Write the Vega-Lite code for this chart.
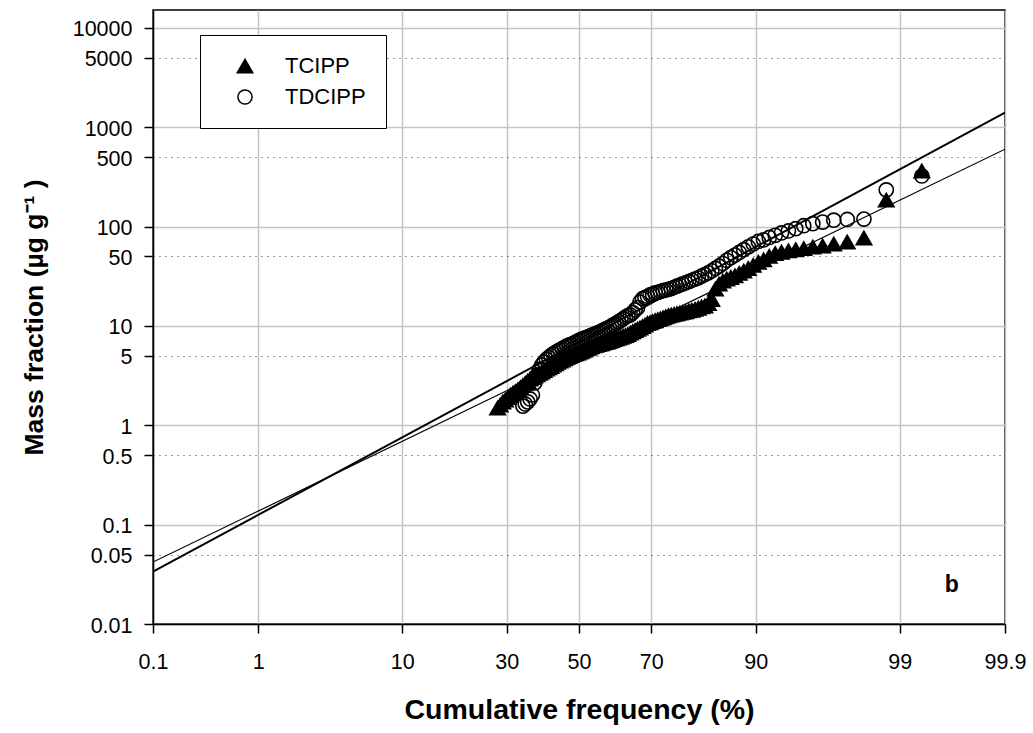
{
  "$schema": "https://vega.github.io/schema/vega-lite/v6.json",
  "width": 852,
  "height": 614,
  "autosize": {"type": "none"},
  "padding": {"left": 153, "top": 10, "right": 28, "bottom": 109},
  "background": "white",
  "config": {
    "font": "Liberation Sans",
    "view": {"stroke": "black", "strokeWidth": 1.5},
    "legend": {
      "orient": "none",
      "legendX": 47,
      "legendY": 25,
      "fillColor": "white",
      "strokeColor": "black",
      "strokeWidth": 1,
      "padding": 20,
      "symbolOffset": 14,
      "labelOffset": 29,
      "rowPadding": 9,
      "labelFontSize": 22,
      "labelFont": "Liberation Sans",
      "labelColor": "black",
      "symbolStrokeWidth": 1.5
    }
  },
  "datasets": {
    "points": [
      {"series": "TDCIPP", "z": -0.4072, "value": 1.56},
      {"series": "TDCIPP", "z": -0.3897, "value": 1.64},
      {"series": "TDCIPP", "z": -0.3723, "value": 1.72},
      {"series": "TDCIPP", "z": -0.3551, "value": 1.84},
      {"series": "TDCIPP", "z": -0.3379, "value": 2.02},
      {"series": "TDCIPP", "z": -0.3208, "value": 2.67},
      {"series": "TDCIPP", "z": -0.3038, "value": 3.21},
      {"series": "TDCIPP", "z": -0.2869, "value": 3.65},
      {"series": "TDCIPP", "z": -0.2701, "value": 4.05},
      {"series": "TDCIPP", "z": -0.2533, "value": 4.34},
      {"series": "TDCIPP", "z": -0.2367, "value": 4.6},
      {"series": "TDCIPP", "z": -0.2201, "value": 4.81},
      {"series": "TDCIPP", "z": -0.2036, "value": 5.04},
      {"series": "TDCIPP", "z": -0.1871, "value": 5.23},
      {"series": "TDCIPP", "z": -0.1707, "value": 5.4},
      {"series": "TDCIPP", "z": -0.1543, "value": 5.58},
      {"series": "TDCIPP", "z": -0.1379, "value": 5.75},
      {"series": "TDCIPP", "z": -0.1216, "value": 5.9},
      {"series": "TDCIPP", "z": -0.1053, "value": 6.08},
      {"series": "TDCIPP", "z": -0.0891, "value": 6.27},
      {"series": "TDCIPP", "z": -0.0729, "value": 6.41},
      {"series": "TDCIPP", "z": -0.0567, "value": 6.53},
      {"series": "TDCIPP", "z": -0.0405, "value": 6.68},
      {"series": "TDCIPP", "z": -0.0243, "value": 6.86},
      {"series": "TDCIPP", "z": -0.0081, "value": 7.04},
      {"series": "TDCIPP", "z": 0.0081, "value": 7.22},
      {"series": "TDCIPP", "z": 0.0243, "value": 7.39},
      {"series": "TDCIPP", "z": 0.0405, "value": 7.53},
      {"series": "TDCIPP", "z": 0.0567, "value": 7.69},
      {"series": "TDCIPP", "z": 0.0729, "value": 7.85},
      {"series": "TDCIPP", "z": 0.0891, "value": 8.02},
      {"series": "TDCIPP", "z": 0.1053, "value": 8.18},
      {"series": "TDCIPP", "z": 0.1216, "value": 8.36},
      {"series": "TDCIPP", "z": 0.1379, "value": 8.54},
      {"series": "TDCIPP", "z": 0.1543, "value": 8.73},
      {"series": "TDCIPP", "z": 0.1707, "value": 8.99},
      {"series": "TDCIPP", "z": 0.1871, "value": 9.21},
      {"series": "TDCIPP", "z": 0.2036, "value": 9.44},
      {"series": "TDCIPP", "z": 0.2201, "value": 9.7},
      {"series": "TDCIPP", "z": 0.2367, "value": 9.99},
      {"series": "TDCIPP", "z": 0.2533, "value": 10.3},
      {"series": "TDCIPP", "z": 0.2701, "value": 10.6},
      {"series": "TDCIPP", "z": 0.2869, "value": 11.0},
      {"series": "TDCIPP", "z": 0.3038, "value": 11.4},
      {"series": "TDCIPP", "z": 0.3208, "value": 11.8},
      {"series": "TDCIPP", "z": 0.3379, "value": 12.3},
      {"series": "TDCIPP", "z": 0.3551, "value": 12.7},
      {"series": "TDCIPP", "z": 0.3723, "value": 12.9},
      {"series": "TDCIPP", "z": 0.3897, "value": 13.6},
      {"series": "TDCIPP", "z": 0.4072, "value": 14.5},
      {"series": "TDCIPP", "z": 0.4249, "value": 15.3},
      {"series": "TDCIPP", "z": 0.4426, "value": 17.4},
      {"series": "TDCIPP", "z": 0.4605, "value": 18.8},
      {"series": "TDCIPP", "z": 0.4786, "value": 19.3},
      {"series": "TDCIPP", "z": 0.4968, "value": 19.9},
      {"series": "TDCIPP", "z": 0.5152, "value": 20.5},
      {"series": "TDCIPP", "z": 0.5338, "value": 20.9},
      {"series": "TDCIPP", "z": 0.5525, "value": 21.5},
      {"series": "TDCIPP", "z": 0.5714, "value": 21.8},
      {"series": "TDCIPP", "z": 0.5906, "value": 22.2},
      {"series": "TDCIPP", "z": 0.6099, "value": 22.7},
      {"series": "TDCIPP", "z": 0.6295, "value": 23.0},
      {"series": "TDCIPP", "z": 0.6494, "value": 23.4},
      {"series": "TDCIPP", "z": 0.6695, "value": 23.8},
      {"series": "TDCIPP", "z": 0.6899, "value": 24.5},
      {"series": "TDCIPP", "z": 0.7105, "value": 25.1},
      {"series": "TDCIPP", "z": 0.7315, "value": 25.8},
      {"series": "TDCIPP", "z": 0.7528, "value": 26.5},
      {"series": "TDCIPP", "z": 0.7744, "value": 27.2},
      {"series": "TDCIPP", "z": 0.7965, "value": 27.9},
      {"series": "TDCIPP", "z": 0.8189, "value": 28.8},
      {"series": "TDCIPP", "z": 0.8416, "value": 29.6},
      {"series": "TDCIPP", "z": 0.865, "value": 30.5},
      {"series": "TDCIPP", "z": 0.8888, "value": 31.7},
      {"series": "TDCIPP", "z": 0.913, "value": 32.9},
      {"series": "TDCIPP", "z": 0.9379, "value": 34.2},
      {"series": "TDCIPP", "z": 0.9633, "value": 35.9},
      {"series": "TDCIPP", "z": 0.9893, "value": 37.9},
      {"series": "TDCIPP", "z": 1.0161, "value": 39.9},
      {"series": "TDCIPP", "z": 1.0435, "value": 42.5},
      {"series": "TDCIPP", "z": 1.0718, "value": 45.8},
      {"series": "TDCIPP", "z": 1.1011, "value": 48.7},
      {"series": "TDCIPP", "z": 1.1311, "value": 51.6},
      {"series": "TDCIPP", "z": 1.1625, "value": 54.9},
      {"series": "TDCIPP", "z": 1.1949, "value": 58.6},
      {"series": "TDCIPP", "z": 1.2283, "value": 62.5},
      {"series": "TDCIPP", "z": 1.2638, "value": 66.8},
      {"series": "TDCIPP", "z": 1.3007, "value": 70.8},
      {"series": "TDCIPP", "z": 1.3389, "value": 73.5},
      {"series": "TDCIPP", "z": 1.3802, "value": 77.7},
      {"series": "TDCIPP", "z": 1.4233, "value": 81.7},
      {"series": "TDCIPP", "z": 1.4689, "value": 86.2},
      {"series": "TDCIPP", "z": 1.5191, "value": 90.4},
      {"series": "TDCIPP", "z": 1.5723, "value": 95.3},
      {"series": "TDCIPP", "z": 1.6304, "value": 102},
      {"series": "TDCIPP", "z": 1.6961, "value": 107},
      {"series": "TDCIPP", "z": 1.7675, "value": 111},
      {"series": "TDCIPP", "z": 1.848, "value": 116},
      {"series": "TDCIPP", "z": 1.946, "value": 118},
      {"series": "TDCIPP", "z": 2.067, "value": 119},
      {"series": "TDCIPP", "z": 2.229, "value": 234},
      {"series": "TDCIPP", "z": 2.487, "value": 323},
      {"series": "TCIPP", "z": -0.5906, "value": 1.49},
      {"series": "TCIPP", "z": -0.5714, "value": 1.6},
      {"series": "TCIPP", "z": -0.5525, "value": 1.72},
      {"series": "TCIPP", "z": -0.5338, "value": 1.8},
      {"series": "TCIPP", "z": -0.5152, "value": 1.9},
      {"series": "TCIPP", "z": -0.4968, "value": 2.02},
      {"series": "TCIPP", "z": -0.4786, "value": 2.11},
      {"series": "TCIPP", "z": -0.4605, "value": 2.19},
      {"series": "TCIPP", "z": -0.4426, "value": 2.29},
      {"series": "TCIPP", "z": -0.4249, "value": 2.4},
      {"series": "TCIPP", "z": -0.4072, "value": 2.51},
      {"series": "TCIPP", "z": -0.3897, "value": 2.65},
      {"series": "TCIPP", "z": -0.3723, "value": 2.79},
      {"series": "TCIPP", "z": -0.3551, "value": 2.92},
      {"series": "TCIPP", "z": -0.3379, "value": 3.03},
      {"series": "TCIPP", "z": -0.3208, "value": 3.14},
      {"series": "TCIPP", "z": -0.3038, "value": 3.23},
      {"series": "TCIPP", "z": -0.2869, "value": 3.34},
      {"series": "TCIPP", "z": -0.2701, "value": 3.44},
      {"series": "TCIPP", "z": -0.2533, "value": 3.56},
      {"series": "TCIPP", "z": -0.2367, "value": 3.69},
      {"series": "TCIPP", "z": -0.2201, "value": 3.79},
      {"series": "TCIPP", "z": -0.2036, "value": 3.91},
      {"series": "TCIPP", "z": -0.1871, "value": 4.05},
      {"series": "TCIPP", "z": -0.1707, "value": 4.17},
      {"series": "TCIPP", "z": -0.1543, "value": 4.3},
      {"series": "TCIPP", "z": -0.1379, "value": 4.44},
      {"series": "TCIPP", "z": -0.1216, "value": 4.54},
      {"series": "TCIPP", "z": -0.1053, "value": 4.67},
      {"series": "TCIPP", "z": -0.0891, "value": 4.8},
      {"series": "TCIPP", "z": -0.0729, "value": 4.93},
      {"series": "TCIPP", "z": -0.0567, "value": 5.04},
      {"series": "TCIPP", "z": -0.0405, "value": 5.15},
      {"series": "TCIPP", "z": -0.0243, "value": 5.25},
      {"series": "TCIPP", "z": -0.0081, "value": 5.35},
      {"series": "TCIPP", "z": 0.0081, "value": 5.47},
      {"series": "TCIPP", "z": 0.0243, "value": 5.61},
      {"series": "TCIPP", "z": 0.0405, "value": 5.74},
      {"series": "TCIPP", "z": 0.0567, "value": 5.88},
      {"series": "TCIPP", "z": 0.0729, "value": 6.01},
      {"series": "TCIPP", "z": 0.0891, "value": 6.16},
      {"series": "TCIPP", "z": 0.1053, "value": 6.31},
      {"series": "TCIPP", "z": 0.1216, "value": 6.41},
      {"series": "TCIPP", "z": 0.1379, "value": 6.5},
      {"series": "TCIPP", "z": 0.1543, "value": 6.6},
      {"series": "TCIPP", "z": 0.1707, "value": 6.71},
      {"series": "TCIPP", "z": 0.1871, "value": 6.82},
      {"series": "TCIPP", "z": 0.2036, "value": 6.91},
      {"series": "TCIPP", "z": 0.2201, "value": 7.02},
      {"series": "TCIPP", "z": 0.2367, "value": 7.14},
      {"series": "TCIPP", "z": 0.2533, "value": 7.29},
      {"series": "TCIPP", "z": 0.2701, "value": 7.42},
      {"series": "TCIPP", "z": 0.2869, "value": 7.56},
      {"series": "TCIPP", "z": 0.3038, "value": 7.7},
      {"series": "TCIPP", "z": 0.3208, "value": 7.87},
      {"series": "TCIPP", "z": 0.3379, "value": 8.02},
      {"series": "TCIPP", "z": 0.3551, "value": 8.2},
      {"series": "TCIPP", "z": 0.3723, "value": 8.49},
      {"series": "TCIPP", "z": 0.3897, "value": 8.76},
      {"series": "TCIPP", "z": 0.4072, "value": 9.02},
      {"series": "TCIPP", "z": 0.4249, "value": 9.29},
      {"series": "TCIPP", "z": 0.4426, "value": 9.54},
      {"series": "TCIPP", "z": 0.4605, "value": 9.86},
      {"series": "TCIPP", "z": 0.4786, "value": 10.2},
      {"series": "TCIPP", "z": 0.4968, "value": 10.6},
      {"series": "TCIPP", "z": 0.5152, "value": 10.8},
      {"series": "TCIPP", "z": 0.5338, "value": 11.1},
      {"series": "TCIPP", "z": 0.5525, "value": 11.3},
      {"series": "TCIPP", "z": 0.5714, "value": 11.6},
      {"series": "TCIPP", "z": 0.5906, "value": 11.8},
      {"series": "TCIPP", "z": 0.6099, "value": 12.1},
      {"series": "TCIPP", "z": 0.6295, "value": 12.4},
      {"series": "TCIPP", "z": 0.6494, "value": 12.7},
      {"series": "TCIPP", "z": 0.6695, "value": 12.9},
      {"series": "TCIPP", "z": 0.6899, "value": 13.1},
      {"series": "TCIPP", "z": 0.7105, "value": 13.3},
      {"series": "TCIPP", "z": 0.7315, "value": 13.5},
      {"series": "TCIPP", "z": 0.7528, "value": 13.7},
      {"series": "TCIPP", "z": 0.7744, "value": 13.9},
      {"series": "TCIPP", "z": 0.7965, "value": 14.2},
      {"series": "TCIPP", "z": 0.8189, "value": 14.4},
      {"series": "TCIPP", "z": 0.8416, "value": 14.7},
      {"series": "TCIPP", "z": 0.865, "value": 15.1},
      {"series": "TCIPP", "z": 0.8888, "value": 15.6},
      {"series": "TCIPP", "z": 0.913, "value": 15.9},
      {"series": "TCIPP", "z": 0.9379, "value": 16.8},
      {"series": "TCIPP", "z": 0.9633, "value": 18.5},
      {"series": "TCIPP", "z": 0.9893, "value": 23.5},
      {"series": "TCIPP", "z": 1.0161, "value": 26.4},
      {"series": "TCIPP", "z": 1.0435, "value": 28.3},
      {"series": "TCIPP", "z": 1.0718, "value": 29.7},
      {"series": "TCIPP", "z": 1.1011, "value": 30.8},
      {"series": "TCIPP", "z": 1.1311, "value": 32.0},
      {"series": "TCIPP", "z": 1.1625, "value": 33.9},
      {"series": "TCIPP", "z": 1.1949, "value": 35.7},
      {"series": "TCIPP", "z": 1.2283, "value": 37.9},
      {"series": "TCIPP", "z": 1.2638, "value": 40.8},
      {"series": "TCIPP", "z": 1.3007, "value": 43.7},
      {"series": "TCIPP", "z": 1.3389, "value": 46.3},
      {"series": "TCIPP", "z": 1.3802, "value": 50.2},
      {"series": "TCIPP", "z": 1.4233, "value": 53.6},
      {"series": "TCIPP", "z": 1.4689, "value": 55.3},
      {"series": "TCIPP", "z": 1.5191, "value": 57.1},
      {"series": "TCIPP", "z": 1.5723, "value": 58.6},
      {"series": "TCIPP", "z": 1.6304, "value": 60.1},
      {"series": "TCIPP", "z": 1.6961, "value": 62.3},
      {"series": "TCIPP", "z": 1.7675, "value": 63.8},
      {"series": "TCIPP", "z": 1.848, "value": 66.8},
      {"series": "TCIPP", "z": 1.946, "value": 70.0},
      {"series": "TCIPP", "z": 2.067, "value": 76.8},
      {"series": "TCIPP", "z": 2.229, "value": 185},
      {"series": "TCIPP", "z": 2.487, "value": 363}
    ],
    "fits": [
      {"series": "TDCIPP", "z": -3.0902, "value": 0.0337},
      {"series": "TDCIPP", "z": 3.0902, "value": 1402},
      {"series": "TCIPP", "z": -3.0902, "value": 0.042},
      {"series": "TCIPP", "z": 3.0902, "value": 601}
    ],
    "notes": [
      {"label": "b", "z": 2.705, "value": 0.0247}
    ]
  },
  "encoding": {
    "x": {
      "field": "z",
      "type": "quantitative",
      "scale": {"domain": [-3.0902, 3.0902], "nice": false, "zero": false},
      "axis": {
        "title": "Cumulative frequency (%)",
        "values": [-3.0902, -2.3263, -1.2816, -0.5244, 0, 0.5244, 1.2816, 2.3263, 3.0902],
        "labelExpr": "datum.value < -3 ? '0.1' : datum.value < -2 ? '1' : datum.value < -1 ? '10' : datum.value < -0.2 ? '30' : datum.value < 0.2 ? '50' : datum.value < 1 ? '70' : datum.value < 2 ? '90' : datum.value < 3 ? '99' : '99.9'",
        "grid": true,
        "gridColor": "#c4c4c4",
        "gridWidth": 1.5,
        "tickSize": 9,
        "tickColor": "black",
        "tickWidth": 1.5,
        "domainColor": "black",
        "domainWidth": 1.5,
        "labelFont": "Liberation Sans",
        "labelFontSize": 21.5,
        "labelColor": "black",
        "labelPadding": 18,
        "labelFlush": false,
        "labelOverlap": false,
        "titleFont": "Liberation Sans",
        "titleFontSize": 28.5,
        "titleFontWeight": "bold",
        "titleColor": "black",
        "titleBaseline": "alphabetic",
        "titleAlign": "center",
        "titleX": 426,
        "titleY": 94
      }
    },
    "y": {
      "field": "value",
      "type": "quantitative",
      "scale": {"type": "log", "domain": [0.01, 15136], "nice": false},
      "axis": {
        "title": "Mass fraction (µg g⁻¹ )",
        "values": [0.01, 0.05, 0.1, 0.5, 1, 5, 10, 50, 100, 500, 1000, 5000, 10000],
        "labelExpr": "'' + datum.value",
        "grid": true,
        "gridColor": {"condition": {"test": "datum.value == 0.05 || datum.value == 0.5 || datum.value == 5 || datum.value == 50 || datum.value == 500 || datum.value == 5000", "value": "#333333"}, "value": "#c4c4c4"},
        "gridDash": {"condition": {"test": "datum.value == 0.05 || datum.value == 0.5 || datum.value == 5 || datum.value == 50 || datum.value == 500 || datum.value == 5000", "value": [1, 5]}, "value": []},
        "gridWidth": {"condition": {"test": "datum.value == 0.05 || datum.value == 0.5 || datum.value == 5 || datum.value == 50 || datum.value == 500 || datum.value == 5000", "value": 1}, "value": 1.5},
        "tickSize": 9,
        "tickColor": "black",
        "tickWidth": 1.5,
        "domainColor": "black",
        "domainWidth": 1.5,
        "labelFont": "Liberation Sans",
        "labelFontSize": 21.5,
        "labelColor": "black",
        "labelPadding": 12,
        "labelBaseline": "middle",
        "labelOffset": 2,
        "labelFlush": false,
        "labelOverlap": false,
        "titleFont": "Liberation Sans",
        "titleFontSize": 26.5,
        "titleFontWeight": "bold",
        "titleColor": "black",
        "titleAngle": -90,
        "titleBaseline": "alphabetic",
        "titleAlign": "center",
        "titleX": -111,
        "titleY": 307
      }
    }
  },
  "layer": [
    {
      "data": {"name": "points"},
      "mark": {"type": "point", "filled": true, "strokeWidth": 1.6, "opacity": 1, "fillOpacity": 1, "strokeOpacity": 1},
      "encoding": {
        "shape": {
          "field": "series",
          "type": "nominal",
          "scale": {"domain": ["TCIPP", "TDCIPP"], "range": ["triangle-up", "circle"]},
          "legend": {"title": null}
        },
        "fill": {
          "field": "series",
          "type": "nominal",
          "scale": {"domain": ["TCIPP", "TDCIPP"], "range": ["black", "transparent"]},
          "legend": {"title": null}
        },
        "stroke": {
          "field": "series",
          "type": "nominal",
          "scale": {"domain": ["TCIPP", "TDCIPP"], "range": ["black", "black"]},
          "legend": {"title": null}
        },
        "size": {
          "field": "series",
          "type": "nominal",
          "scale": {"domain": ["TCIPP", "TDCIPP"], "range": [240, 200]},
          "legend": {"title": null}
        }
      }
    },
    {
      "data": {"name": "fits"},
      "transform": [{"filter": "datum.series == 'TDCIPP'"}],
      "mark": {"type": "line", "color": "black", "strokeWidth": 2, "clip": true},
      "encoding": {}
    },
    {
      "data": {"name": "fits"},
      "transform": [{"filter": "datum.series == 'TCIPP'"}],
      "mark": {"type": "line", "color": "black", "strokeWidth": 1.2, "clip": true},
      "encoding": {}
    },
    {
      "data": {"name": "notes"},
      "mark": {"type": "text", "fontSize": 23, "fontWeight": "bold", "font": "Liberation Sans", "color": "black", "baseline": "middle", "align": "center"},
      "encoding": {"text": {"field": "label"}}
    }
  ]
}
